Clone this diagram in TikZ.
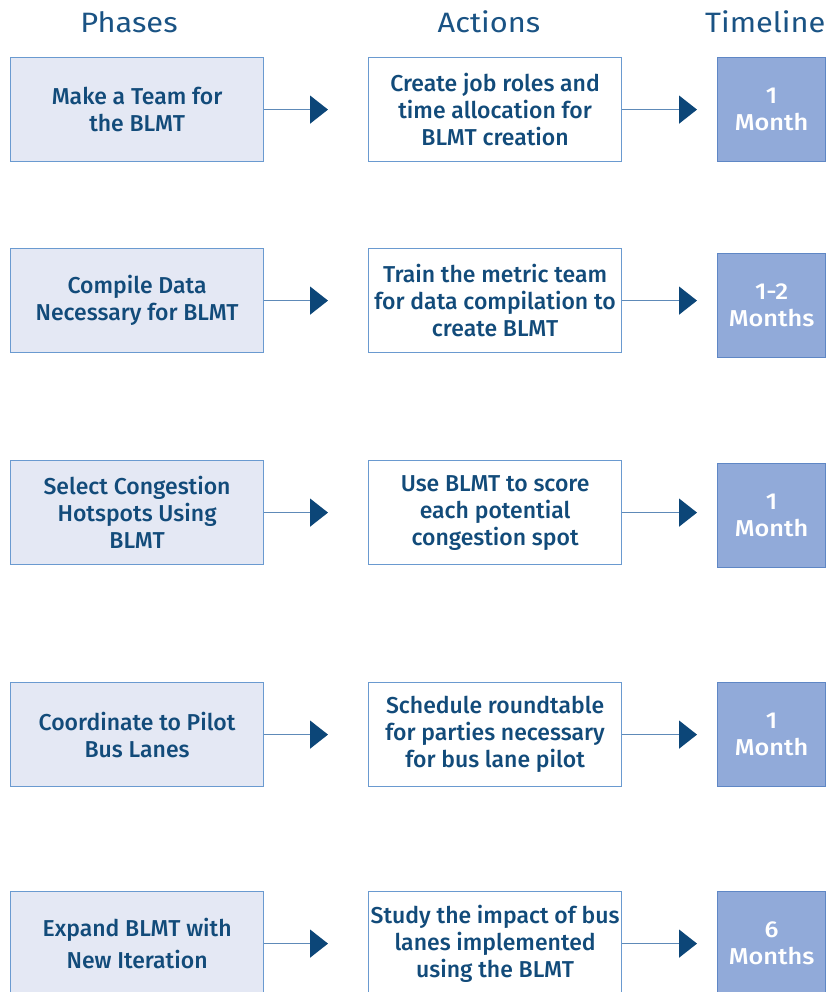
\documentclass[tikz,border=0pt]{standalone}
\usepackage{fontspec}
\setmainfont{Fira Sans}
\newfontfamily\medfont{Fira Sans Medium}
\newfontfamily\widefont{Fira Sans Medium}[FakeStretch=1.1]
\newfontfamily\headfont{Fira Sans}[FakeStretch=1.1]
\usetikzlibrary{arrows.meta}
\definecolor{ink}{HTML}{124B7A}
\definecolor{headink}{HTML}{1A5384}
\definecolor{edge}{HTML}{6A9AD0}
\definecolor{phasefill}{HTML}{E4E8F4}
\definecolor{timefill}{HTML}{91AAD9}
\definecolor{timeedge}{HTML}{5F87C5}
\definecolor{shaft}{HTML}{5E8AB8}
\definecolor{tipink}{HTML}{0C4678}
\begin{document}
\begin{tikzpicture}[x=1pt,y=-1pt,
  box/.style={draw=edge, line width=1.2pt, minimum height=104pt, inner sep=0pt,
    align=center, anchor=north west, text=ink,
    font=\medfont\fontsize{23}{27}\selectfont},
  phasebox/.style={box, fill=phasefill, minimum width=253pt},
  actionbox/.style={box, fill=white, minimum width=253pt},
  timebox/.style={box, draw=timeedge, fill=timefill, minimum width=108pt, text=white,
    font=\widefont\fontsize{23}{27}\selectfont},
  heading/.style={font=\headfont\fontsize{28}{32}\selectfont, text=headink, anchor=base},
  flow/.style={draw=shaft, line width=1.5pt,
    -{Triangle[length=18pt,width=28pt,color=tipink]}},
]
\useasboundingbox[fill=white] (0,0) rectangle (830,992);

% column headings
\node[heading] (hphase) at (129,33) {Phases};
\node[heading] (haction) at (489,33) {Actions};
\node[heading, anchor=base east] (htime) at (829,33) {Timeline};

% row 1
\node[phasebox] (p1) at (10,57) {Make a Team for\\the BLMT};
\node[actionbox] (a1) at (368,57) {Create job roles and\\time allocation for\\BLMT creation};
\node[timebox] (t1) at (717,57) {1\\Month};

% row 2
\node[phasebox] (p2) at (10,248) {Compile Data\\Necessary for BLMT};
\node[actionbox] (a2) at (368,248) {Train the metric team\\for data compilation to\\create BLMT};
\node[timebox] (t2) at (717,253) {1-2\\Months};

% row 3
\node[phasebox] (p3) at (10,460) {Select Congestion\\Hotspots Using\\BLMT};
\node[actionbox] (a3) at (368,460) {Use BLMT to score\\each potential\\congestion spot};
\node[timebox] (t3) at (717,463) {1\\Month};

% row 4
\node[phasebox] (p4) at (10,682) {Coordinate to Pilot\\Bus Lanes};
\node[actionbox] (a4) at (368,682) {Schedule roundtable\\for parties necessary\\for bus lane pilot};
\node[timebox] (t4) at (717,682) {1\\Month};

% row 5
\node[phasebox, font=\medfont\fontsize{23}{32}\selectfont] (p5) at (10,891) {Expand BLMT with\\New Iteration};
\node[actionbox] (a5) at (368,891) {Study the impact of bus\\lanes implemented\\using the BLMT};
\node[timebox] (t5) at (717,891) {6\\Months};

% connectors
\foreach \r in {1,...,5}{
  \draw[flow, shorten >=40pt] (p\r.east) -- (p\r.east -| a\r.west);
  \draw[flow, shorten >=20pt] (a\r.east) -- (a\r.east -| t\r.west);
}
\end{tikzpicture}
\end{document}
